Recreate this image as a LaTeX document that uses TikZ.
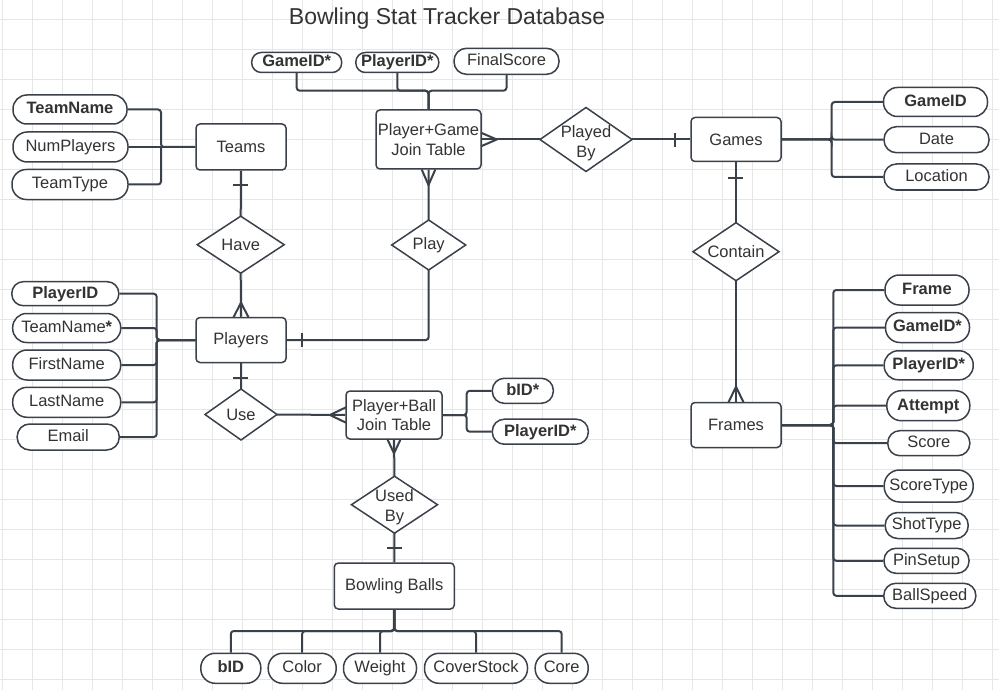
\documentclass[tikz,border=0pt]{standalone}
\usepackage{fontspec}
\setmainfont{Liberation Sans}
\usetikzlibrary{shapes.geometric}
\definecolor{ln}{HTML}{3A414A}
\definecolor{tx}{HTML}{333333}
\definecolor{gr}{HTML}{E6E6E6}
\tikzset{
  lbl/.style={font=\fontsize{16.5}{19.5}\selectfont, text=tx},
  ent/.style={draw=ln, line width=1.5pt, fill=white, rounded corners=4pt, inner sep=0pt, lbl, align=center},
  attr/.style={draw=ln, line width=1.5pt, fill=white, inner sep=0pt, lbl, text height=11.8pt, text depth=3pt},
  pill/.style 2 args={attr, minimum width=#1pt, minimum height=#2pt, rounded corners=0.48*#2pt},
  dia/.style={draw=ln, line width=1.5pt, fill=white, diamond, inner sep=0pt, outer sep=0pt},
  dlbl/.style={lbl, align=center, inner sep=0pt},
  con/.style={draw=ln, line width=2pt, rounded corners=3pt},
  cf/.style={draw=ln, line width=2pt},
  cbar/.style={draw=ln, line width=2pt},
  gridln/.style={draw=gr, line width=0.8pt}
}
\begin{document}
\begin{tikzpicture}[x=1pt,y=-1pt]
\useasboundingbox (0,0) rectangle (999,690);
\fill[white] (0,0) rectangle (999,690);
\foreach \x in {2,32,...,992} \draw[gridln] (\x,0) -- (\x,690);
\foreach \y in {19,49,...,679} \draw[gridln] (0,\y) -- (999,\y);

% title
\node[font=\fontsize{23}{27}\selectfont, text=tx, anchor=base, inner sep=0pt] (title) at (447,25) {Bowling Stat Tracker Database};

% entities
\node[ent, minimum width=90pt, minimum height=46pt] (teams) at (241,147) {Teams};
\node[ent, minimum width=105pt, minimum height=59pt] (pg) at (428.5,139.5) {Player+Game\\Join Table};
\node[ent, minimum width=90pt, minimum height=44pt] (games) at (736,139.5) {Games};
\node[ent, minimum width=90pt, minimum height=45pt] (players) at (241,340) {Players};
\node[ent, minimum width=96pt, minimum height=48pt] (pbj) at (394,415) {Player+Ball\\Join Table};
\node[ent, minimum width=90pt, minimum height=45pt] (frames) at (736,425) {Frames};
\node[ent, minimum width=120pt, minimum height=46pt] (bb) at (394.3,586) {Bowling Balls};

% relationships
\node[dia, minimum width=87pt, minimum height=57pt] (have) at (240.7,244.7) {};
\node[dlbl] at (have) {Have};
\node[dia, minimum width=74pt, minimum height=50pt] (play) at (428.7,245) {};
\node[dlbl] at (play) {Play};
\node[dia, minimum width=92pt, minimum height=64pt] (playedby) at (586,139.5) {};
\node[dlbl] at ([yshift=-3.5pt]playedby.center) {Played\\By};
\node[dia, minimum width=86pt, minimum height=58pt] (contain) at (736,251.7) {};
\node[dlbl] at (contain) {Contain};
\node[dia, minimum width=72pt, minimum height=51pt] (use) at (241,414.5) {};
\node[dlbl] at (use) {Use};
\node[dia, minimum width=86pt, minimum height=57pt] (usedby) at (394.5,504.7) {};
\node[dlbl] at ([yshift=-2.5pt]usedby.center) {Used\\By};

% Teams attributes
\node[pill={114}{29}] (ta1) at (70,109.5) {\textbf{TeamName}};
\node[pill={115}{30}] (ta2) at (70.5,147) {NumPlayers};
\node[pill={116}{30}] (ta3) at (70,184.5) {TeamType};

% Player+Game attributes
\node[pill={90}{20}] (pga1) at (296.7,62.5) {\textbf{GameID*}};
\node[pill={83}{20}] (pga2) at (397.3,62.5) {\textbf{PlayerID*}};
\node[pill={105}{26}] (pga3) at (506.5,61.3) {FinalScore};

% Games attributes
\node[pill={104}{29}] (ga1) at (935.5,102) {\textbf{GameID}};
\node[pill={105}{26}] (ga2) at (936.5,139.7) {Date};
\node[pill={105}{26}] (ga3) at (936.5,177) {Location};

% Players attributes
\node[pill={107}{24}] (pa1) at (65.3,293.7) {\textbf{PlayerID}};
\node[pill={108}{29}] (pa2) at (66.7,328) {TeamName\textbf{*}};
\node[pill={108}{30}] (pa3) at (66.7,365) {FirstName};
\node[pill={108}{30}] (pa4) at (66.7,402.3) {LastName};
\node[pill={102}{26}] (pa5) at (68.2,437) {Email};

% Player+Ball attributes
\node[pill={61}{25}] (ja1) at (522.8,390.8) {\textbf{bID*}};
\node[pill={96}{25}] (ja2) at (540.3,431.7) {\textbf{PlayerID*}};

% Bowling Balls attributes
\node[pill={60}{30}] (ba1) at (230.8,668.3) {\textbf{bID}};
\node[pill={68}{30}] (ba2) at (302.2,668.3) {Color};
\node[pill={73}{30}] (ba3) at (380,668.3) {Weight};
\node[pill={103}{30}] (ba4) at (476,668.3) {CoverStock};
\node[pill={53}{30}] (ba5) at (561.7,668.3) {Core};

% Frames attributes
\node[pill={84}{30}] (fa1) at (927,290) {\textbf{Frame}};
\node[pill={84}{30}] (fa2) at (927.5,327.5) {\textbf{GameID*}};
\node[pill={89}{29}] (fa3) at (928.7,365.3) {\textbf{PlayerID*}};
\node[pill={83}{30}] (fa4) at (928.3,405.7) {\textbf{Attempt}};
\node[pill={82}{25}] (fa5) at (928.8,443.2) {Score};
\node[pill={89}{32}] (fa6) at (928.7,486) {ScoreType};
\node[pill={83}{26}] (fa7) at (926.7,525.5) {ShotType};
\node[pill={85}{25}] (fa8) at (926.5,560.8) {PinSetup};
\node[pill={92}{25}] (fa9) at (929.8,595.8) {BallSpeed};

% bus coordinates
\coordinate (tbus) at (161,147);
\coordinate (pgbus) at (428.5,90.7);
\coordinate (gbus) at (831.7,139.5);
\coordinate (pbus) at (156.7,340);
\coordinate (jbus) at (466.7,415);
\coordinate (bbus) at (394.3,631);
\coordinate (fbus) at (833.3,425);

% attribute connectors
\draw[con] (ta1.east) -| (tbus) -- (teams.west);
\draw[con] (ta2.east) -- (teams.west);
\draw[con] (ta3.east) -| (tbus);
\foreach \a in {pga1,pga2,pga3} \draw[con] (\a.south) |- (pgbus) -- (pg.north);
\foreach \a in {ga1,ga2,ga3} \draw[con] (games.east) -- (gbus) |- (\a.west);
\foreach \a in {pa1,pa2,pa3,pa4,pa5} \draw[con] (\a.east) -| (pbus) -- (players.west);
\foreach \a in {ja1,ja2} \draw[con] (pbj.east) -- (jbus) |- (\a.west);
\foreach \a in {ba1,ba2,ba3,ba4,ba5} \draw[con] (bb.south) -- (bbus) -| (\a.north);
\foreach \a in {fa1,fa2,fa3,fa4,fa5,fa6,fa7,fa8,fa9} \draw[con] (frames.east) -- (fbus) |- (\a.west);

% relationship connectors
\draw[con] (teams.south) -- (have.north);
\draw[cbar] (233.3,185) -- (248.3,185);
\draw[con] (have.south) -- (players.north);
\draw[cf] (233.3,317.7) -- (241,302.7) -- (248.7,317.7);

\draw[con] (players.east) -| (play.south);
\draw[cbar] (301.7,333.3) -- (301.7,347.3);
\draw[con] (play.north) -- (pg.south);
\draw[cf] (421.7,169.5) -- (428.5,185) -- (435.3,169.5);

\draw[con] (pg.east) -- (playedby.west);
\draw[cf] (481,132.7) -- (496.7,139.5) -- (481,146.3);
\draw[con] (playedby.east) -- (games.west);
\draw[cbar] (675,132.7) -- (675,146.7);

\draw[con] (games.south) -- (contain.north);
\draw[cbar] (728.3,177.7) -- (743.3,177.7);
\draw[con] (contain.south) -- (frames.north);
\draw[cf] (728.3,402.7) -- (736,386.7) -- (743.7,402.7);

\draw[con] (players.south) -- (use.north);
\draw[cbar] (233.3,378.3) -- (248.3,378.3);
\draw[con] (use.east) -- (pbj.west);
\draw[cf] (346,407.3) -- (330,415) -- (346,422.7);

\draw[con] (pbj.south) -- (usedby.north);
\draw[cf] (387.3,439) -- (394,453.3) -- (400.7,439);
\draw[con] (usedby.south) -- (bb.north);
\draw[cbar] (387.3,547.7) -- (401.7,547.7);
\end{tikzpicture}
\end{document}
